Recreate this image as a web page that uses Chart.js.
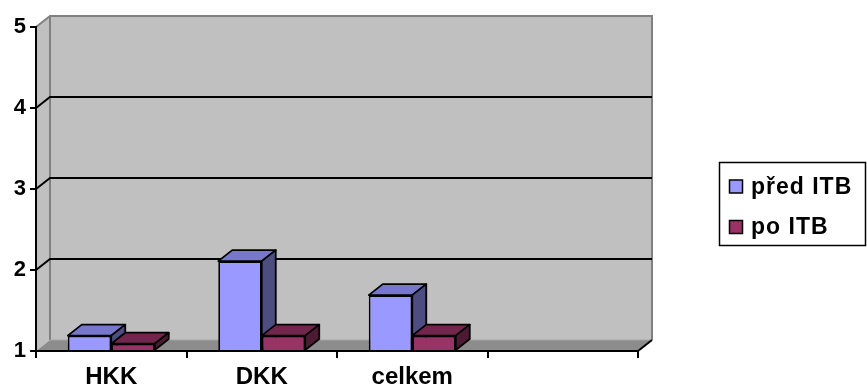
<!DOCTYPE html>
<html>
<head>
<meta charset="utf-8">
<script src="https://cdn.jsdelivr.net/npm/chart.js@4.4.1/dist/chart.umd.min.js"></script>
<style>
  html, body { margin: 0; padding: 0; background: #fff; }
  canvas { display: block; }
</style>
</head>
<body>
<canvas id="c" width="867" height="392"></canvas>
<script>
// Categories and series
const categories = ['HKK', 'DKK', 'celkem', ''];
const seriesNames = ['před ITB', 'po ITB'];
const predITB = [1.19, 2.11, 1.69, null];
const poITB = [1.09, 1.19, 1.19, null];
const yTicks = [1, 2, 3, 4, 5];

const FONT = "'Liberation Sans', Arial, sans-serif";
// 3D depth offset of walls and bars
const DX = 14, DY = -11;
const palette = [
  { front: '#9999FF', top: '#7777CC', side: '#4D4D80' },
  { front: '#993366', top: '#73264D', side: '#4D1A33' }
];

function poly(ctx, pts, fill, stroke, lw) {
  ctx.beginPath();
  ctx.moveTo(pts[0][0], pts[0][1]);
  for (let i = 1; i < pts.length; i++) ctx.lineTo(pts[i][0], pts[i][1]);
  ctx.closePath();
  if (fill) { ctx.fillStyle = fill; ctx.fill(); }
  if (stroke) { ctx.strokeStyle = stroke; ctx.lineWidth = lw || 1; ctx.stroke(); }
}

function line(ctx, pts, color, lw) {
  ctx.beginPath();
  ctx.moveTo(pts[0][0], pts[0][1]);
  for (let i = 1; i < pts.length; i++) ctx.lineTo(pts[i][0], pts[i][1]);
  ctx.strokeStyle = color; ctx.lineWidth = lw; ctx.stroke();
}

// Walls, floor and back-wall gridlines
const wallsPlugin = {
  id: 'walls',
  beforeDraw(chart) {
    const { ctx, chartArea: { left, right, top, bottom }, scales: { y } } = chart;
    ctx.save();
    ctx.lineJoin = 'miter';
    ctx.fillStyle = '#C0C0C0';
    ctx.fillRect(left + DX, top + DY, right - left, bottom - top);
    poly(ctx, [[left, top], [left + DX, top + DY], [left + DX, bottom + DY], [left, bottom]], '#C0C0C0');
    poly(ctx, [[left, bottom], [left + DX, bottom + DY], [right + DX, bottom + DY], [right, bottom]], '#8C8C8C');
    line(ctx, [[left, top], [left + DX, top + DY], [right + DX, top + DY], [right + DX, bottom + DY]], '#808080', 2);
    line(ctx, [[left + DX, top + DY], [left + DX, bottom + DY]], '#808080', 2);
    line(ctx, [[left + DX, bottom + DY], [right + DX, bottom + DY]], '#A6A6A6', 1);
    yTicks.forEach(v => {
      if (v <= y.min || v >= y.max) return;
      const yy = y.getPixelForValue(v);
      line(ctx, [[left, yy], [left + DX, yy + DY], [right + DX, yy + DY]], '#000', 2);
    });
    line(ctx, [[right, bottom], [right + DX, bottom + DY]], '#000', 2);
    ctx.restore();
  }
};

function drawFaces(ctx, bar, c) {
  const { x, y, base, width } = bar.getProps(['x', 'y', 'base', 'width'], true);
  const l = x - width / 2, r = x + width / 2;
  poly(ctx, [[l, y], [l + DX, y + DY], [r + DX, y + DY], [r, y]], c.top, '#000', 1.8);
  poly(ctx, [[r, y], [r + DX, y + DY], [r + DX, base + DY], [r, base]], c.side, '#000', 1.8);
}

// Top and side faces of the columns, drawn category by category
const columnsPlugin = {
  id: 'columns3d',
  afterDatasetsDraw(chart) {
    const ctx = chart.ctx;
    const metas = [chart.getDatasetMeta(0), chart.getDatasetMeta(1)];
    ctx.save();
    ctx.lineJoin = 'round';
    categories.forEach((_, i) => {
      metas.forEach((meta, d) => {
        if (chart.data.datasets[d].data[i] == null) return;
        const bar = meta.data[i];
        if (d > 0) bar.draw(ctx);
        drawFaces(ctx, bar, palette[d]);
      });
    });
    ctx.restore();
  }
};

// Boxed legend on the right
const legendPlugin = {
  id: 'boxLegend',
  afterDraw(chart) {
    const ctx = chart.ctx;
    ctx.save();
    ctx.strokeStyle = '#000';
    ctx.lineWidth = 1.5;
    ctx.strokeRect(719.5, 162.5, 146, 83);
    const rows = [186.5, 227];
    chart.data.datasets.forEach((ds, i) => {
      const cy = rows[i];
      ctx.fillStyle = ds.backgroundColor;
      ctx.fillRect(729.5, cy - 6.5, 13, 13);
      ctx.lineWidth = 1.5;
      ctx.strokeRect(729.5, cy - 6.5, 13, 13);
      ctx.fillStyle = '#000';
      ctx.font = `bold 23px ${FONT}`;
      ctx.textBaseline = 'middle';
      ctx.textAlign = 'left';
      if ('letterSpacing' in ctx) ctx.letterSpacing = '1px';
      ctx.fillText(ds.label, 751, cy + 1);
    });
    ctx.restore();
  }
};

new Chart(document.getElementById('c'), {
  type: 'bar',
  data: {
    labels: categories,
    datasets: [
      { label: seriesNames[0], data: predITB, base: 1, backgroundColor: palette[0].front,
        borderColor: '#000', borderWidth: 1.8 },
      { label: seriesNames[1], data: poITB, base: 1, backgroundColor: palette[1].front,
        borderColor: '#000', borderWidth: 1.8 }
    ]
  },
  options: {
    responsive: false,
    animation: false,
    layout: { padding: { top: 27, right: 229, bottom: 0, left: 0 } },
    datasets: { bar: { categoryPercentage: 0.578, barPercentage: 1 } },
    plugins: { legend: { display: false }, tooltip: { enabled: false } },
    scales: {
      x: {
        type: 'category',
        offset: true,
        ticks: { font: { family: FONT, size: 24, weight: 'bold' }, color: '#000', padding: 5,
                 autoSkip: false, maxRotation: 0 },
        grid: { offset: true, drawOnChartArea: false, drawTicks: true, tickLength: 7, color: '#000', lineWidth: 2 },
        border: { display: true, color: '#000', width: 2 },
        afterFit(scale) { scale.height = 41; }
      },
      y: {
        min: 1,
        max: 5,
        afterBuildTicks(scale) { scale.ticks = yTicks.map(v => ({ value: v })); },
        ticks: { font: { family: FONT, size: 22, weight: 'bold' }, color: '#000', padding: 4 },
        grid: { drawOnChartArea: false, drawTicks: true, tickLength: 6, color: '#000', lineWidth: 2 },
        border: { display: true, color: '#000', width: 2 },
        afterFit(scale) { scale.width = 36; }
      }
    }
  },
  plugins: [wallsPlugin, columnsPlugin, legendPlugin]
});
</script>
</body>
</html>
